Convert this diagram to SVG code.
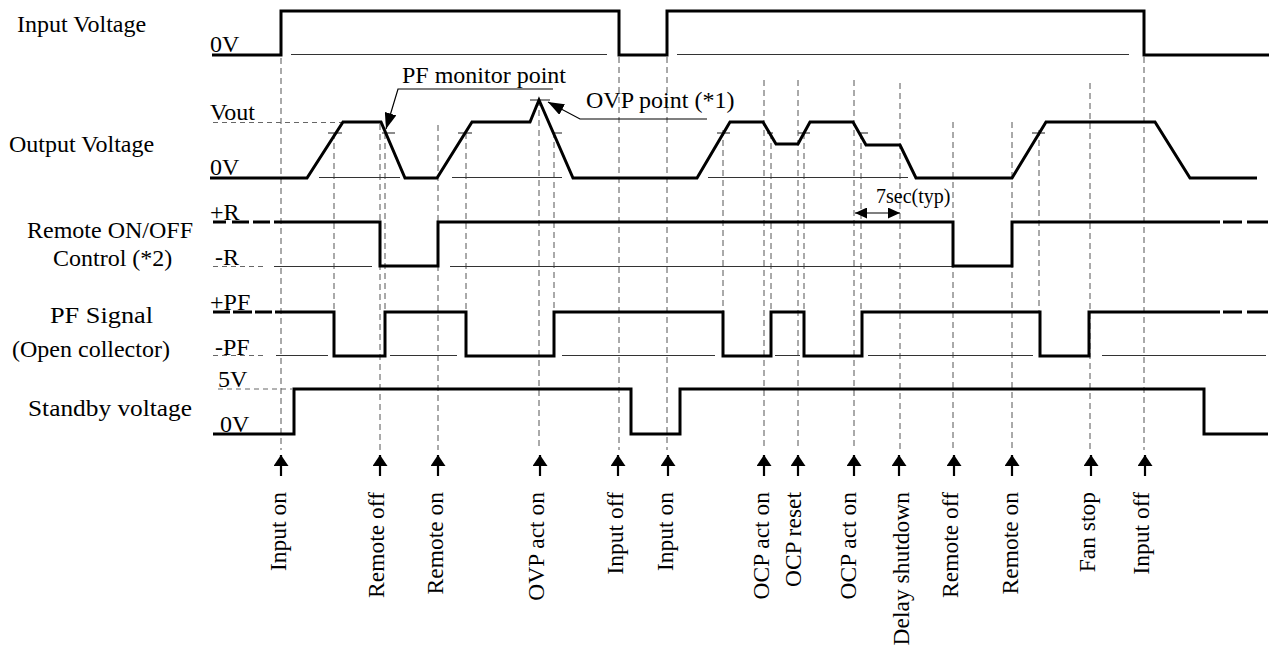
<svg xmlns="http://www.w3.org/2000/svg" width="1271" height="648" viewBox="0 0 1271 648">
<defs>
<style>
.sig{fill:none;stroke:#000;stroke-width:3;stroke-linejoin:miter;stroke-linecap:butt}
.ref{fill:none;stroke:#333;stroke-width:1}
.refd{fill:none;stroke:#666;stroke-width:1;stroke-dasharray:5 4}
.grid{fill:none;stroke:#555;stroke-width:1;stroke-dasharray:6 4}
.tick{fill:none;stroke:#666;stroke-width:1.5}
.lead{fill:none;stroke:#000;stroke-width:1.2}
.evl{fill:none;stroke:#000;stroke-width:2.2}
.lbl{font-family:"Liberation Serif","Times New Roman",serif;font-size:24px;fill:#000}
.ev{font-family:"Liberation Serif","Times New Roman",serif;font-size:23.5px;fill:#000}
.sm{font-family:"Liberation Serif","Times New Roman",serif;font-size:20px;fill:#000}
</style>
<marker id="evarrow" viewBox="0 0 11 15" refX="11" refY="7.5" markerWidth="11" markerHeight="15" markerUnits="userSpaceOnUse" orient="auto">
<path d="M0,0 L11,7.5 L0,15 Z" fill="#000"/>
</marker>
<marker id="dimarrow" viewBox="0 0 12 11" refX="12" refY="5.5" markerWidth="12" markerHeight="11" markerUnits="userSpaceOnUse" orient="auto-start-reverse">
<path d="M0,0 L12,5.5 L0,11 Z" fill="#000"/>
</marker>
<marker id="leadarrow" viewBox="0 0 16 12" refX="16" refY="6" markerWidth="16" markerHeight="12" markerUnits="userSpaceOnUse" orient="auto">
<path d="M0,0 L16,6 L0,12 Z" fill="#000"/>
</marker>
</defs>
<rect width="1271" height="648" fill="#fff"/>

<g id="grid-lines">
<line class="grid" x1="281" y1="58" x2="281" y2="450"/>
<line class="grid" x1="334" y1="133" x2="334" y2="312"/>
<line class="grid" x1="380" y1="124" x2="380" y2="450"/>
<line class="grid" x1="385" y1="133" x2="385" y2="312"/>
<line class="grid" x1="438" y1="125" x2="438" y2="450"/>
<line class="grid" x1="466" y1="133" x2="466" y2="312"/>
<line class="grid" x1="539" y1="100" x2="539" y2="450"/>
<line class="grid" x1="554" y1="132" x2="554" y2="312"/>
<line class="grid" x1="619" y1="57" x2="619" y2="450"/>
<line class="grid" x1="667" y1="57" x2="667" y2="450"/>
<line class="grid" x1="723" y1="130" x2="723" y2="312"/>
<line class="grid" x1="764" y1="80" x2="764" y2="450"/>
<line class="grid" x1="771" y1="133" x2="771" y2="312"/>
<line class="grid" x1="798" y1="80" x2="798" y2="450"/>
<line class="grid" x1="804" y1="133" x2="804" y2="312"/>
<line class="grid" x1="854" y1="80" x2="854" y2="450"/>
<line class="grid" x1="861" y1="133" x2="861" y2="312"/>
<line class="grid" x1="900" y1="83" x2="900" y2="450"/>
<line class="grid" x1="953" y1="122" x2="953" y2="450"/>
<line class="grid" x1="1012" y1="122" x2="1012" y2="450"/>
<line class="grid" x1="1039" y1="130" x2="1039" y2="312"/>
<line class="grid" x1="1090" y1="83" x2="1090" y2="450"/>
<line class="grid" x1="1144" y1="57" x2="1144" y2="450"/>
</g>

<g id="input-voltage">
<text class="lbl" x="17" y="32">Input Voltage</text>
<text class="lbl" x="210" y="52">0V</text>
<line class="ref" x1="291" y1="54.5" x2="607" y2="54.5"/>
<line class="ref" x1="677" y1="54.5" x2="1129" y2="54.5"/>
<polyline class="sig" points="212,55 281,55 281,11 619,11 619,55 667,55 667,11 1144,11 1144,55 1269,55"/>
</g>

<g id="output-voltage">
<text class="lbl" x="9" y="152">Output Voltage</text>
<text class="lbl" x="210" y="120">Vout</text>
<text class="lbl" x="210" y="175">0V</text>
<line class="refd" x1="213" y1="122.5" x2="342" y2="122.5"/>
<line class="ref" x1="319" y1="177.5" x2="400" y2="177.5"/>
<line class="ref" x1="452" y1="177.5" x2="562" y2="177.5"/>
<line class="ref" x1="708" y1="177.5" x2="908" y2="177.5"/>
<g>
<line class="tick" x1="328" y1="133" x2="342" y2="133"/>
<line class="tick" x1="382" y1="133" x2="395" y2="133"/>
<line class="tick" x1="458" y1="133" x2="472" y2="133"/>
<line class="tick" x1="553" y1="133" x2="562" y2="133"/>
<line class="tick" x1="717" y1="133" x2="730" y2="133"/>
<line class="tick" x1="767" y1="133" x2="773" y2="133"/>
<line class="tick" x1="798" y1="133" x2="810" y2="133"/>
<line class="tick" x1="860" y1="133" x2="868" y2="133"/>
<line class="tick" x1="1032" y1="133" x2="1045" y2="133"/>
<line class="tick" x1="530" y1="100" x2="550" y2="100"/>
</g>
<polyline class="sig" points="210,178 307,178 343,122 381,122 405,178 437,178 472,122 530,122 539,100 573,178 697,178 730,122 763,122 776,144 798,144 810,122 853,122 866,145 900,145 916,178 1012,178 1046,122 1155,122 1190,178 1257,178"/>
</g>

<g id="pf-monitor-note">
<text class="lbl" x="402" y="83">PF monitor point</text>
<polyline class="lead" points="553,89 398,89 386,129" marker-end="url(#leadarrow)"/>
</g>

<g id="ovp-note">
<text class="lbl" x="586" y="108">OVP point (*1)</text>
<polyline class="lead" points="707,119 580,119 548,102" marker-end="url(#leadarrow)"/>
</g>

<g id="remote-control">
<text class="lbl" x="27" y="238">Remote ON/OFF</text>
<text class="lbl" x="53" y="266">Control (*2)</text>
<text class="lbl" x="210" y="220">+R</text>
<text class="lbl" x="215" y="265">-R</text>
<line class="refd" x1="213" y1="266.5" x2="267" y2="266.5"/>
<line class="ref" x1="274" y1="266.5" x2="372" y2="266.5"/>
<line class="ref" x1="450" y1="266.5" x2="952" y2="266.5"/>
<path class="sig" d="M213,222 H226 M232,222 H249 M253,222 H270"/>
<polyline class="sig" points="274,222 380,222 380,266 438,266 438,222 953,222 953,266 1012,266 1012,222 1220,222"/>
<path class="sig" d="M1223,222 H1242 M1247,222 H1268"/>
</g>

<g id="delay-7sec">
<text class="sm" x="876" y="203">7sec(typ)</text>
<line class="lead" x1="855" y1="213" x2="900" y2="213" marker-start="url(#dimarrow)" marker-end="url(#dimarrow)"/>
</g>

<g id="pf-signal">
<text class="lbl" x="50" y="323" textLength="103" lengthAdjust="spacingAndGlyphs">PF Signal</text>
<text class="lbl" x="12" y="357">(Open collector)</text>
<text class="lbl" x="210" y="310">+PF</text>
<text class="lbl" x="215" y="355">-PF</text>
<line class="refd" x1="213" y1="355.5" x2="267" y2="355.5"/>
<line class="ref" x1="276" y1="355.5" x2="328" y2="355.5"/>
<line class="ref" x1="390" y1="355.5" x2="457" y2="355.5"/>
<line class="ref" x1="562" y1="355.5" x2="715" y2="355.5"/>
<line class="ref" x1="775" y1="355.5" x2="800" y2="355.5"/>
<line class="ref" x1="868" y1="355.5" x2="1033" y2="355.5"/>
<line class="ref" x1="1102" y1="355.5" x2="1266" y2="355.5"/>
<path class="sig" d="M213,312 H230 M233,312 H252 M255,312 H272"/>
<polyline class="sig" points="275,312 334,312 334,356 385,356 385,312 466,312 466,356 554,356 554,312 723,312 723,356 771,356 771,312 804,312 804,356 862,356 862,312 1040,312 1040,356 1089,356 1089,312 1220,312"/>
<path class="sig" d="M1223,312 H1242 M1247,312 H1268"/>
</g>

<g id="standby-voltage">
<text class="lbl" x="28" y="416" textLength="164" lengthAdjust="spacingAndGlyphs">Standby voltage</text>
<text class="lbl" x="218" y="387">5V</text>
<text class="lbl" x="220" y="432">0V</text>
<line class="refd" x1="218" y1="389" x2="292" y2="389"/>
<polyline class="sig" points="213,434 294,434 294,389 631,389 631,434 680,434 680,389 1204,389 1204,434 1268,434"/>
</g>

<g id="events">
<g id="ev-arrows">
<line class="evl" x1="281" y1="476" x2="281" y2="455" marker-end="url(#evarrow)"/>
<line class="evl" x1="380" y1="476" x2="380" y2="455" marker-end="url(#evarrow)"/>
<line class="evl" x1="438" y1="476" x2="438" y2="455" marker-end="url(#evarrow)"/>
<line class="evl" x1="540" y1="476" x2="540" y2="455" marker-end="url(#evarrow)"/>
<line class="evl" x1="618" y1="476" x2="618" y2="455" marker-end="url(#evarrow)"/>
<line class="evl" x1="668" y1="476" x2="668" y2="455" marker-end="url(#evarrow)"/>
<line class="evl" x1="764" y1="476" x2="764" y2="455" marker-end="url(#evarrow)"/>
<line class="evl" x1="798" y1="476" x2="798" y2="455" marker-end="url(#evarrow)"/>
<line class="evl" x1="854" y1="476" x2="854" y2="455" marker-end="url(#evarrow)"/>
<line class="evl" x1="899" y1="476" x2="899" y2="455" marker-end="url(#evarrow)"/>
<line class="evl" x1="954" y1="476" x2="954" y2="455" marker-end="url(#evarrow)"/>
<line class="evl" x1="1012" y1="476" x2="1012" y2="455" marker-end="url(#evarrow)"/>
<line class="evl" x1="1091" y1="476" x2="1091" y2="455" marker-end="url(#evarrow)"/>
<line class="evl" x1="1145" y1="476" x2="1145" y2="455" marker-end="url(#evarrow)"/>
</g>
<g id="ev-labels" text-anchor="end">
<text class="ev" transform="translate(286,492) rotate(-90)">Input on</text>
<text class="ev" transform="translate(384,492) rotate(-90)">Remote off</text>
<text class="ev" transform="translate(443,492) rotate(-90)">Remote on</text>
<text class="ev" transform="translate(544,492) rotate(-90)">OVP act on</text>
<text class="ev" transform="translate(623,492) rotate(-90)">Input off</text>
<text class="ev" transform="translate(673,492) rotate(-90)">Input on</text>
<text class="ev" transform="translate(769,492) rotate(-90)">OCP act on</text>
<text class="ev" transform="translate(801,492) rotate(-90)">OCP reset</text>
<text class="ev" transform="translate(856,492) rotate(-90)">OCP act on</text>
<text class="ev" transform="translate(909,492) rotate(-90)">Delay shutdown</text>
<text class="ev" transform="translate(958,492) rotate(-90)">Remote off</text>
<text class="ev" transform="translate(1018,492) rotate(-90)">Remote on</text>
<text class="ev" transform="translate(1095,492) rotate(-90)">Fan stop</text>
<text class="ev" transform="translate(1149,492) rotate(-90)">Input off</text>
</g>
</g>
</svg>
